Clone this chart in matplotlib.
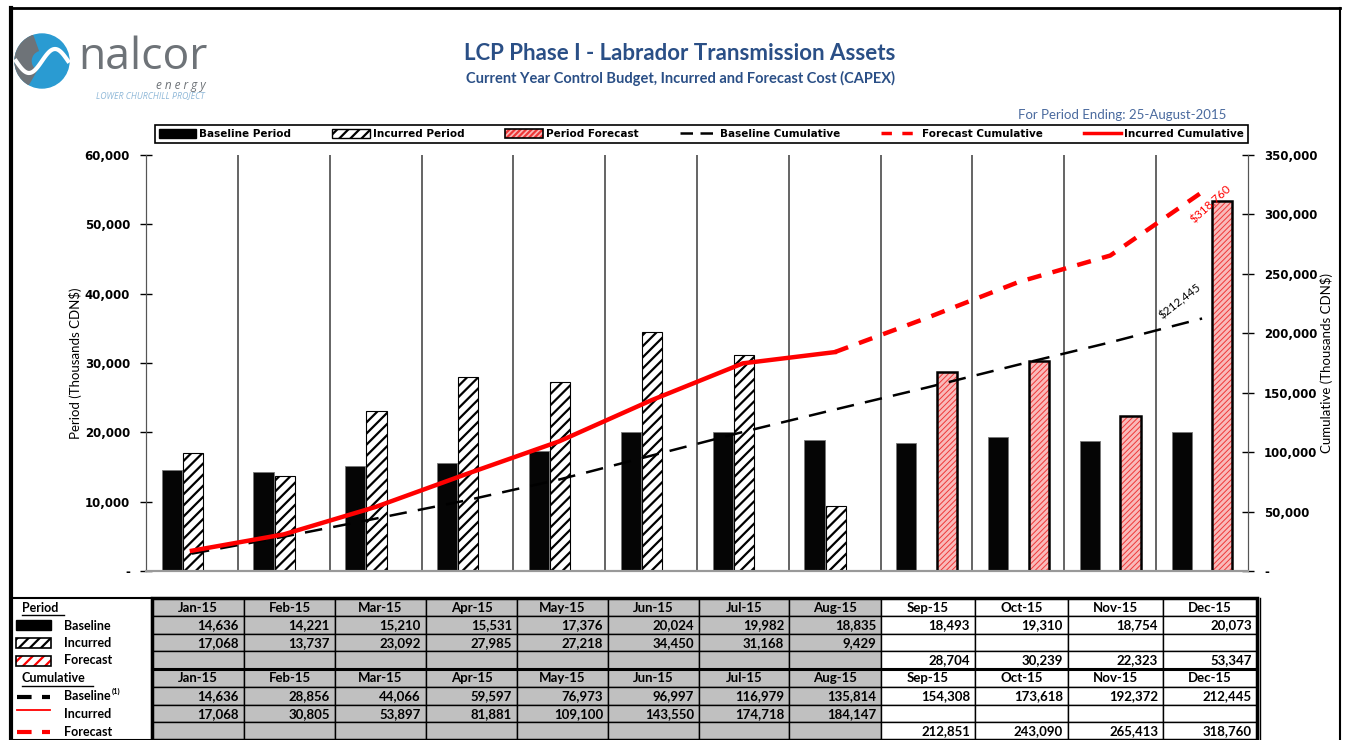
import matplotlib
matplotlib.use('Agg')
import matplotlib.pyplot as plt
import numpy as np
from matplotlib.patches import Rectangle, Circle, Wedge
from matplotlib.lines import Line2D

# data (thousands CDN$)
months = ['Jan-15', 'Feb-15', 'Mar-15', 'Apr-15', 'May-15', 'Jun-15',
          'Jul-15', 'Aug-15', 'Sep-15', 'Oct-15', 'Nov-15', 'Dec-15']
baseline_period = [14636, 14221, 15210, 15531, 17376, 20024,
                   19982, 18835, 18493, 19310, 18754, 20073]
incurred_period = [17068, 13737, 23092, 27985, 27218, 34450, 31168, 9429]
forecast_period = [28704, 30239, 22323, 53347]          # Sep-15 .. Dec-15
baseline_cum = [14636, 28856, 44066, 59597, 76973, 96997,
                116979, 135814, 154308, 173618, 192372, 212445]
incurred_cum = [17068, 30805, 53897, 81881, 109100, 143550, 174718, 184147]
forecast_cum = [212851, 243090, 265413, 318760]         # Sep-15 .. Dec-15

W, H = 1351, 740
BLUE = '#2A4F86'
PINK = '#F9BABA'
HATCH_RED = '#EE3838'
GRAY = '#C0C0C0'

plt.rcParams['hatch.linewidth'] = 1.6

fig = plt.figure(figsize=(W / 100, H / 100), dpi=100)

# overlay axes in pixel units for frame, logo, titles and table
deco = fig.add_axes([0, 0, 1, 1])
deco.set_xlim(0, W)
deco.set_ylim(H, 0)
deco.axis('off')

# main chart
ax = fig.add_axes([146 / W, 1 - 571 / H, (1248 - 146) / W, (571 - 155) / H])
ax2 = ax.twinx()
ax.set_zorder(2)
ax2.set_zorder(3)
ax.patch.set_visible(False)

x = np.arange(len(months))
bw = 0.22
n_inc = len(incurred_period)
n_fc = len(forecast_period)
x_fc = x[len(months) - n_fc:]

for b in np.arange(0.5, len(months) - 0.5, 1):
    ax.axvline(b, color='#3a3a3a', lw=1.1, zorder=0)

ax.bar(x - bw, baseline_period, bw, color='#050505', edgecolor='#777777',
       lw=0.6, zorder=2)
ax.bar(x[:n_inc] + 0.01, incurred_period, bw, color='white',
       edgecolor='black', hatch='///', lw=0.8, zorder=2)
with plt.rc_context({'hatch.linewidth': 0.7}):
    ax.bar(x_fc + bw, forecast_period, bw, color=PINK, edgecolor=HATCH_RED,
           hatch='//////', lw=0, zorder=2)
ax.bar(x_fc + bw, forecast_period, bw, fill=False, edgecolor='black',
       lw=1.8, zorder=3)

ax.set_xlim(-0.5, len(months) - 0.5)
ax.set_ylim(0, 60000)
ax.set_yticks(np.arange(0, 60001, 10000))
ax.set_yticklabels(['-'] + ['{:,}'.format(v) for v in range(10000, 60001, 10000)],
                   fontweight='bold', fontsize=8.5)
ax.set_xticks([])
ax.tick_params(axis='y', direction='inout', length=9, width=1, pad=7)
ax.set_ylabel('Period (Thousands CDN$)', fontsize=9.5, family='Lato', labelpad=2)

ax2.plot(x, baseline_cum, color='black', lw=1.8, dashes=(7, 4.5), zorder=4)
ax2.plot(x[:n_inc], incurred_cum, color='#FF0000', lw=3.2, zorder=5)
ax2.plot(np.concatenate([[x[n_inc - 1]], x_fc]),
         [incurred_cum[-1]] + forecast_cum,
         color='#FF0000', lw=3.2, dashes=(3.2, 2.6), zorder=5)
ax2.set_ylim(0, 350000)
ax2.set_yticks(np.arange(0, 350001, 50000))
ax2.set_yticklabels(['-'] + ['{:,}'.format(v) for v in range(50000, 350001, 50000)],
                    fontweight='bold', fontsize=8.5)
ax2.tick_params(axis='y', direction='inout', length=9, width=1, pad=7)
ax2.set_ylabel('Cumulative (Thousands CDN$)', fontsize=9.5, family='Lato',
               labelpad=2)

ax2.annotate('${:,}'.format(forecast_cum[-1]), (x[-1], forecast_cum[-1]),
             xytext=(6, -9), textcoords='offset points', rotation=42,
             ha='center', va='center', color='red', fontsize=8.5,
             family='Lato')
ax2.annotate('${:,}'.format(baseline_cum[-1]), (x[-1], baseline_cum[-1]),
             xytext=(-16, 12), textcoords='offset points', rotation=38,
             ha='center', va='center', color='black', fontsize=8.5,
             family='Lato')

for a in (ax, ax2):
    a.spines['top'].set_visible(False)
    a.spines['left'].set_color('#555555')
    a.spines['right'].set_color('#555555')
    a.spines['bottom'].set_color('#999999')
    a.spines['bottom'].set_linewidth(1.5)

# legend
h_base = Rectangle((0, 0), 1, 1, facecolor='black', edgecolor='black')
h_inc = Rectangle((0, 0), 1, 1, facecolor='white', edgecolor='black', hatch='///')
with plt.rc_context({'hatch.linewidth': 0.7}):
    h_fc = (Rectangle((0, 0), 1, 1, facecolor=PINK, edgecolor=HATCH_RED,
                      hatch='//////', lw=0),
            Rectangle((0, 0), 1, 1, fill=False, edgecolor='black', lw=1.2))
h_bc = Line2D([], [], color='black', lw=1.8, dashes=(5, 3))
h_fcc = Line2D([], [], color='red', lw=2.5, dashes=(3, 3))
h_icc = Line2D([], [], color='red', lw=2.5)
leg = ax2.legend([h_base, h_inc, h_fc, h_bc, h_fcc, h_icc],
                 ['Baseline Period', 'Incurred Period', 'Period Forecast',
                  'Baseline Cumulative', 'Forecast Cumulative', 'Incurred Cumulative'],
                 loc='center', ncol=6, mode='expand',
                 bbox_to_anchor=(150 / W, 1 - 146 / H, (1253 - 150) / W, 24 / H),
                 bbox_transform=fig.transFigure, fancybox=False,
                 edgecolor='black', framealpha=1, handlelength=3.6,
                 handleheight=0.9, handletextpad=0.3, borderpad=0.35,
                 prop={'family': ['Liberation Sans Narrow', 'DejaVu Sans'],
                       'weight': 'bold', 'size': 7.5})
leg.get_frame().set_linewidth(1.2)

# titles
deco.text(680, 53, 'LCP Phase I - Labrador Transmission Assets', ha='center',
          va='center', fontsize=16, fontweight='bold', color=BLUE, family='Lato')
deco.text(680, 78, 'Current Year Control Budget, Incurred and Forecast Cost (CAPEX)',
          ha='center', va='center', fontsize=10.5, fontweight='bold',
          color=BLUE, family='Lato')
deco.text(1226, 115, 'For Period Ending: 25-August-2015', ha='right',
          va='center', fontsize=9.5, color='#4A6A9E', family='Lato')

# logo
deco.add_patch(Circle((42, 61), 27, color='#2A9BD2', zorder=1))
deco.add_patch(Wedge((42, 61), 27, 120, 250, width=16, color='#6E7378', zorder=2))
tt = np.linspace(-1, 1, 50)
deco.plot(42 + 26 * tt, 61 - 12 * np.sin(np.pi * tt), color='white', lw=3, zorder=3)
deco.text(78, 58, 'nalcor', ha='left', va='center', fontsize=32,
          color='#6E7378', family='Open Sans')
deco.text(206, 86, 'e n e r g y', ha='right', va='center', fontsize=8.5,
          color='#6E7378', style='italic', family='Open Sans')
deco.text(205, 96, 'LOWER CHURCHILL PROJECT', ha='right', va='center',
          fontsize=6.3, color='#8FB8D8', style='italic', family='Open Sans')

# frame
deco.plot([11, 11], [8, H], color='black', lw=3)
deco.plot([10, 1340], [8, 8], color='black', lw=2)
deco.plot([1340, 1340], [8, H], color='black', lw=1.5)

# table
col_edges = [152, 244, 335, 426, 517, 608, 699, 789, 881, 975, 1068, 1163, 1257]
row_edges = [598, 616, 634, 651, 669, 687, 705, 722, 740]
n_past = len(months) - n_fc
rows = [
    ('hdr', months),
    ('val', baseline_period),
    ('val', incurred_period + [None] * n_fc),
    ('val', [None] * n_past + forecast_period),
    ('hdr', months),
    ('val', baseline_cum),
    ('val', incurred_cum + [None] * n_fc),
    ('val', [None] * n_past + forecast_cum),
]
tfont = dict(fontsize=9.5, fontweight='bold', family='Lato', va='center')
for r, (kind, vals) in enumerate(rows):
    y0, y1 = row_edges[r], row_edges[r + 1]
    for c, v in enumerate(vals):
        x0, x1 = col_edges[c], col_edges[c + 1]
        fc = GRAY if c < n_past else 'white'
        deco.add_patch(Rectangle((x0, y0), x1 - x0, y1 - y0, facecolor=fc,
                                 edgecolor='black', lw=1, zorder=1))
        if v is None:
            continue
        if kind == 'hdr':
            deco.text((x0 + x1) / 2, (y0 + y1) / 2 + 0.5, v, ha='center', **tfont)
        else:
            deco.text(x1 - 5, (y0 + y1) / 2 + 0.5, '{:,}'.format(v), ha='right', **tfont)

deco.add_patch(Rectangle((col_edges[0], row_edges[0]), col_edges[-1] - col_edges[0],
                         row_edges[-1] - row_edges[0], fill=False,
                         edgecolor='black', lw=2.5, zorder=3))
deco.plot([col_edges[0], col_edges[-1]], [row_edges[4], row_edges[4]],
          color='black', lw=2.2, zorder=3)
deco.plot([col_edges[-1] + 3, col_edges[-1] + 3], [row_edges[0], H],
          color='black', lw=1, zorder=3)
deco.add_patch(Rectangle((11, row_edges[0]), col_edges[0] - 11,
                         row_edges[-1] - row_edges[0], fill=False,
                         edgecolor='black', lw=1.5, zorder=3))

# row labels with icons
lfont = dict(fontsize=9, fontweight='bold', family='Lato', va='center')


def row_mid(r):
    return (row_edges[r] + row_edges[r + 1]) / 2 + 0.5


deco.text(22, row_mid(0), 'Period', ha='left', **lfont)
deco.plot([22, 64], [615, 615], color='black', lw=1)
deco.text(22, row_mid(4), 'Cumulative', ha='left', **lfont)
deco.plot([22, 93], [686, 686], color='black', lw=1)

icon = [(1, 'Baseline'), (2, 'Incurred'), (3, 'Forecast')]
for r, lab in icon:
    deco.text(64, row_mid(r), lab, ha='left', **lfont)
deco.add_patch(Rectangle((16, row_mid(1) - 5.5), 35, 10, facecolor='black',
                         edgecolor='black'))
deco.add_patch(Rectangle((16, row_mid(2) - 5), 35, 10, facecolor='white',
                         edgecolor='black', hatch='///', lw=1.2))
deco.add_patch(Rectangle((16, row_mid(3) - 5), 35, 10, facecolor='white',
                         edgecolor='red', hatch='///', lw=0))
deco.add_patch(Rectangle((16, row_mid(3) - 5), 35, 10, fill=False,
                         edgecolor='black', lw=1.2))

deco.text(64, row_mid(5), 'Baseline', ha='left', **lfont)
deco.text(112, row_mid(5) - 5, '(1)', ha='left', va='center', fontsize=5.5,
          fontweight='bold', family='Lato')
deco.text(64, row_mid(6), 'Incurred', ha='left', **lfont)
deco.text(64, row_mid(7), 'Forecast', ha='left', **lfont)
deco.plot([17, 50], [row_mid(5), row_mid(5)], color='black', lw=3, dashes=(3.5, 2.5))
deco.plot([17, 50], [row_mid(6) - 4, row_mid(6) - 4], color='red', lw=1.3)
deco.plot([17, 50], [row_mid(7), row_mid(7)], color='red', lw=3, dashes=(3.5, 2.5))

fig.savefig('out.png', dpi=100)
